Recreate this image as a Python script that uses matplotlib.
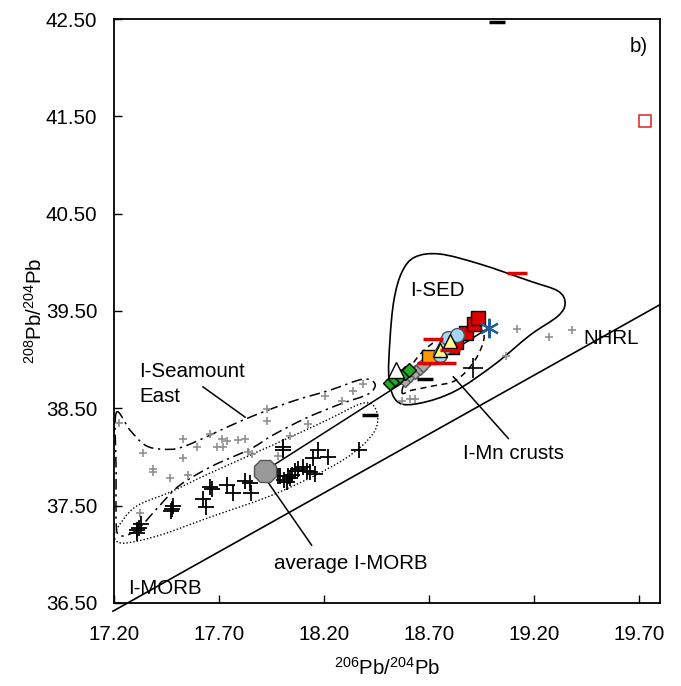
import numpy as np
import matplotlib
matplotlib.use("Agg")
import matplotlib.pyplot as plt
from matplotlib.path import Path
from matplotlib.patches import PathPatch

plt.rcParams['font.family'] = ['Liberation Sans', 'DejaVu Sans']
plt.rcParams['mathtext.default'] = 'regular'

# --- data ------------------------------------------------------------------
# I-MORB (black crosses)
morb_x = [17.31, 17.32, 17.33, 17.31, 17.475, 17.482, 17.47, 17.625, 17.64,
          17.657, 17.665, 17.737, 17.765, 17.824, 17.848, 17.851, 18.006, 18.003,
          17.98, 17.99, 18.01, 18.03, 18.046, 18.06, 18.078, 18.10, 18.118,
          18.133, 18.157, 18.022, 18.038, 18.149, 18.173, 18.22, 18.368]
morb_y = [37.22, 37.27, 37.31, 37.25, 37.47, 37.50, 37.45, 37.57, 37.49,
          37.69, 37.67, 37.71, 37.63, 37.75, 37.73, 37.63, 38.07, 38.10,
          37.80, 37.80, 37.76, 37.80, 37.81, 37.86, 37.88, 37.90, 37.86,
          37.85, 37.83, 37.74, 37.78, 37.99, 38.07, 38.00, 38.07]

# I-Seamount East and other small grey crosses
smt_x = [17.225, 17.387, 17.387, 17.34, 17.467, 17.53, 17.527, 17.594, 17.554,
         17.657, 17.689, 17.72, 17.713, 17.737, 17.792, 17.824, 17.84, 17.856,
         17.927, 17.93, 18.038, 18.125, 18.205, 18.284, 18.34, 18.387, 17.98,
         17.324, 19.118, 19.273, 19.38, 19.067, 18.61, 18.633, 18.57]
smt_y = [38.35, 37.88, 37.85, 38.04, 37.78, 37.99, 38.18, 38.10, 37.81,
         38.24, 38.10, 38.10, 38.18, 38.16, 38.17, 38.19, 38.05, 38.03,
         38.37, 38.49, 38.22, 38.34, 38.63, 38.58, 38.68, 38.75, 38.01,
         37.42, 39.32, 39.23, 39.30, 39.04, 38.60, 38.60, 38.58]

avg_morb = (17.919, 37.86)

# cluster of sediments / crusts
green_x = [18.514, 18.538, 18.562, 18.586, 18.605]
green_y = [38.756, 38.797, 38.828, 38.859, 38.89]
greyd_x = [18.586, 18.61, 18.633, 18.657, 18.673]
greyd_y = [38.79, 38.84, 38.875, 38.91, 38.944]
orange_x = [18.70]
orange_y = [39.03]
reds_x = [18.808, 18.829, 18.876, 18.914, 18.935]
reds_y = [39.132, 39.183, 39.27, 39.365, 39.424]
bluet_x = [18.76, 18.776]
bluet_y = [39.15, 39.167]
lblue_x = [18.752, 18.776, 18.792, 18.832]
lblue_y = [39.047, 39.132, 39.218, 39.252]
yellow_x = [18.752, 18.80]
yellow_y = [39.098, 39.194]
whitet_x = [18.543]
whitet_y = [38.893]
reddash_x = [18.72, 18.69, 18.78, 18.80, 19.119]
reddash_y = [39.21, 38.965, 38.968, 39.10, 39.89]
blackdash_x = [19.024, 18.419, 18.681]
blackdash_y = [42.469, 38.43, 38.797]
star_x = [18.986]
star_y = [39.33]
cross_x = [18.91]
cross_y = [38.91]
redsq_open_x = [19.729]
redsq_open_y = [41.452]

# field outlines (anchor points)
sed_x = [18.514, 18.533, 18.571, 18.633, 18.752, 18.943, 19.181, 19.314,
         19.348, 19.314, 19.181, 19.014, 18.824, 18.657, 18.552, 18.510]
sed_y = [39.201, 39.612, 39.900, 40.054, 40.085, 39.982, 39.807, 39.705,
         39.581, 39.448, 39.252, 38.954, 38.677, 38.553, 38.564, 38.790]
mn_x = [18.571, 18.619, 18.705, 18.824, 18.933, 18.962, 18.919, 18.829, 18.714, 18.619]
mn_y = [38.667, 38.944, 39.149, 39.283, 39.324, 39.221, 38.995, 38.790, 38.728, 38.687]
imorb_x = [17.21, 17.30, 17.467, 17.657, 17.976, 18.214, 18.386, 18.448,
           18.438, 18.29, 17.976, 17.657, 17.419, 17.252, 17.205]
imorb_y = [37.248, 37.485, 37.639, 37.834, 38.142, 38.379, 38.553, 38.482,
           38.255, 37.968, 37.629, 37.382, 37.197, 37.115, 37.156]
ismt_x = [17.21, 17.276, 17.348, 17.429, 17.538, 17.814, 18.038, 18.229,
          18.386, 18.443, 18.41, 18.276, 18.114, 17.957, 17.848, 17.667,
          17.514, 17.419, 17.324, 17.262, 17.219, 17.21, 17.21]
ismt_y = [38.451, 38.276, 38.122, 38.081, 38.112, 38.379, 38.564, 38.687,
          38.800, 38.749, 38.646, 38.543, 38.399, 38.225, 38.081, 37.906,
          37.711, 37.505, 37.279, 37.197, 37.207, 37.351, 37.865]

# NHRL: 208/204 = 1.209 * 206/204 + 15.627
nhrl_x = np.array([17.195, 19.8])
nhrl_y = 1.209 * nhrl_x + 15.627


def smooth_closed(xs, ys):
    pts = np.column_stack([xs, ys])
    n = len(pts)
    verts = [pts[0]]
    codes = [Path.MOVETO]
    for i in range(n):
        p0, p1 = pts[i - 1], pts[i]
        p2, p3 = pts[(i + 1) % n], pts[(i + 2) % n]
        verts += [p1 + (p2 - p0) / 6.0, p2 - (p3 - p1) / 6.0, p2]
        codes += [Path.CURVE4] * 3
    return Path(verts, codes)


fig = plt.figure(figsize=(6.81, 6.86), dpi=100)
ax = fig.add_axes([0.1674, 0.121, 0.8018, 0.8513])

# fields
ax.add_patch(PathPatch(smooth_closed(sed_x, sed_y), fill=False, lw=1.2, ec='black', zorder=2))
ax.add_patch(PathPatch(smooth_closed(mn_x, mn_y), fill=False, lw=1.1, ec='black',
                       ls=(0, (4, 3)), zorder=2))
ax.add_patch(PathPatch(smooth_closed(imorb_x, imorb_y), fill=False, lw=1.0, ec='black',
                       ls=(0, (1, 1.5)), zorder=2))
ax.add_patch(PathPatch(smooth_closed(ismt_x, ismt_y), fill=False, lw=1.1, ec='black',
                       ls=(0, (7, 3, 1.5, 3)), zorder=2))

# lines
ax.plot(nhrl_x, nhrl_y, color='black', lw=1.2, clip_on=False, zorder=2)
ax.plot([avg_morb[0], star_x[0]], [avg_morb[1], star_y[0]], color='black', lw=1.1, zorder=2)
ax.plot([17.624, 17.824], [38.72, 38.41], color='black', lw=1.1)
ax.plot([17.927, 18.141], [37.76, 37.094], color='black', lw=1.1)
ax.plot([18.816, 19.078], [38.824, 38.19], color='black', lw=1.1)

# points
ax.plot(smt_x, smt_y, '+', color='#909090', ms=6, mew=1.2, zorder=3)
ax.plot(morb_x, morb_y, '+', color='black', ms=11, mew=1.3, zorder=3)
ax.plot(*avg_morb, marker='8', color='#999999', mec='#555555', ms=17, zorder=4)
ax.plot(greyd_x, greyd_y, 'D', mfc='#aaaaaa', mec='#555555', ms=7, ls='none', zorder=4)
ax.plot(green_x, green_y, 'D', mfc='#22aa22', mec='black', ms=7, ls='none', zorder=4)
ax.plot(whitet_x, whitet_y, '^', mfc='white', mec='black', ms=11, ls='none', zorder=4)
ax.plot(orange_x, orange_y, 's', mfc='#ff9900', mec='black', ms=10, ls='none', zorder=4)
ax.plot(reds_x, reds_y, 's', mfc='#dd0000', mec='black', ms=10, ls='none', zorder=4)
ax.plot(bluet_x, bluet_y, '^', mfc='#0000cc', mec='black', ms=11, ls='none', zorder=5)
ax.plot(lblue_x, lblue_y, 'o', mfc='#a8d4f5', mec='#555555', ms=10, ls='none', zorder=5)
ax.plot(yellow_x, yellow_y, '^', mfc='#ffff99', mec='black', ms=10, ls='none', zorder=6)
ax.plot(reddash_x, reddash_y, '_', color='#dd0000', ms=14, mew=2.5, ls='none', zorder=6)
ax.plot(blackdash_x, blackdash_y, '_', color='black', ms=12, mew=2.5, ls='none', zorder=6)
ax.plot(star_x, star_y, marker=(6, 2, 0), color='#1f5fa0', ms=14, mew=1.5, ls='none', zorder=6)
ax.plot(cross_x, cross_y, '+', color='black', ms=14, mew=1.2, zorder=6)
ax.plot(redsq_open_x, redsq_open_y, 's', mfc='white', mec='#dd2222', ms=8, mew=1.1, zorder=6)

# labels
fs = 14.8
ax.text(18.61, 39.71, 'I-SED', fontsize=fs, va='center')
ax.text(17.319, 38.882, 'I-Seamount', fontsize=fs, va='center')
ax.text(17.319, 38.625, 'East', fontsize=fs, va='center')
ax.text(17.267, 36.652, 'I-MORB', fontsize=fs, va='center')
ax.text(17.962, 36.909, 'average I-MORB', fontsize=fs, va='center')
ax.text(18.863, 38.036, 'I-Mn crusts', fontsize=fs, va='center')
ax.text(19.433, 39.221, 'NHRL', fontsize=fs, va='center')
ax.text(19.657, 42.22, 'b)', fontsize=fs, va='center')

ax.set_xlim(17.2, 19.8)
ax.set_ylim(36.5, 42.5)
ax.set_xticks(np.arange(17.2, 19.71, 0.5))
ax.set_yticks(np.arange(36.5, 42.51, 1.0))
ax.xaxis.set_major_formatter(matplotlib.ticker.FormatStrFormatter('%.2f'))
ax.yaxis.set_major_formatter(matplotlib.ticker.FormatStrFormatter('%.2f'))
ax.tick_params(direction='in', length=6, width=1, labelsize=fs)
ax.tick_params(axis='x', pad=16)
ax.tick_params(axis='y', pad=12)
for s in ax.spines.values():
    s.set_linewidth(1.3)

ax.set_xlabel(r'$^{206}$Pb/$^{204}$Pb', fontsize=fs, labelpad=9)
ax.set_ylabel(r'$^{208}$Pb/$^{204}$Pb', fontsize=fs, labelpad=0)

fig.savefig('out.png', dpi=100)
